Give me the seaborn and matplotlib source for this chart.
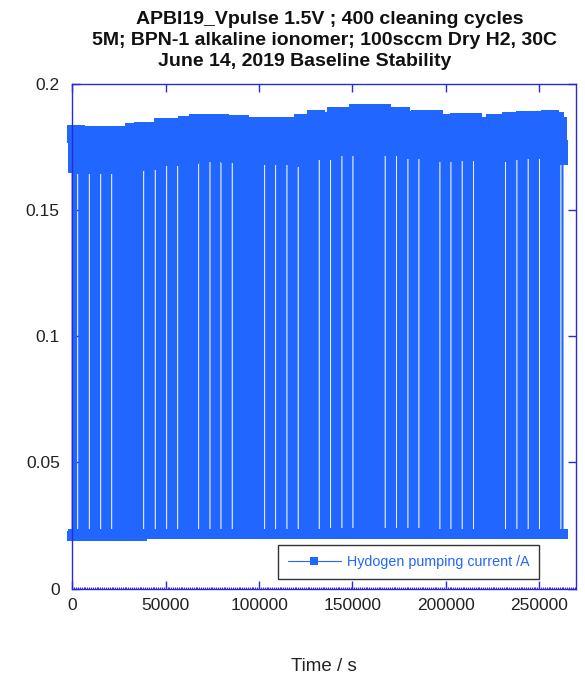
import numpy as np
import pandas as pd
import seaborn as sns
import matplotlib
matplotlib.use("Agg")
from matplotlib import pyplot as plt
from matplotlib.lines import Line2D
from matplotlib.ticker import MultipleLocator, FuncFormatter

# ------------------------------------------------- #
# values
# centres of the white gaps (pauses between pulse blocks), s
gap_t = [2890, 9100, 15200, 21090,
         38220, 44430, 50530, 56420,
         67660, 73710, 79600, 85650,
         102990, 108880, 114930, 120980,
         132220, 138320, 144370, 150260,
         167550, 173650, 179700, 185590,
         196830, 202730, 208780, 214880,
         232000, 238050, 244100, 250200,
         261600]
t_end = 262650

# top edge of the high-current band (A), step changes
env_t = [0, 4650, 30900, 35700, 46400, 58700, 64600, 81700, 92300, 95000,
         118600, 120800, 128200, 133600, 137900, 145900, 149700, 168400, 171600, 178100,
         183400, 196800, 204800, 217100, 223600, 231600, 239700, 253000, 258400, 261000]
env_top = [0.1837, 0.1833, 0.1844, 0.1848, 0.1864, 0.1874, 0.1881, 0.1877, 0.1866, 0.1870,
           0.1860, 0.1881, 0.1897, 0.1890, 0.1908, 0.1904, 0.1919, 0.1906, 0.1908, 0.1894,
           0.1897, 0.1881, 0.1884, 0.1870, 0.1880, 0.1888, 0.1893, 0.1897, 0.1888, 0.1870]

# bottom edge of the low-current band (A)
low_t = [0, 20200, 37900, 139500, 186700]
low_bottom = [0.0190, 0.0189, 0.0197, 0.0201, 0.0196]
low_top = 0.0237

# one pulse: time offsets (s) and drop from the band top (A)
pulse_dt = [0, 80, 160, 240, 320, 400]
pulse_drop = [0.0, 0.003, 0.006, 0.009, 0.012, 0.0150]
period = 660
pause = 1300

x_ticks = [0, 50000, 100000, 150000, 200000, 250000]
y_ticks = [0, 0.05, 0.1, 0.15, 0.2]
title_lines = ["APBI19_Vpulse 1.5V ; 400 cleaning cycles",
               "5M; BPN-1 alkaline ionomer; 100sccm Dry H2, 30C",
               "June 14, 2019 Baseline Stability"]
# ------------------------------------------------- #

blue = "#2166FF"
frame = "#2a2ad8"
half = 0.002  # half a marker in data units

# build the pulse train block by block
t_list, i_list = [], []
starts = [0] + [g + pause / 2 for g in gap_t]
ends = [g - pause / 2 for g in gap_t] + [t_end]
high_len = pulse_dt[-1]
for s, e in zip(starts, ends):
    n = int((e - s - high_len) // period) + 1
    step = (e - s - high_len) / (n - 1) if n > 1 else 0
    for j in range(n):
        c = s + j * step
        k = np.searchsorted(env_t, c, side="right") - 1
        m = np.searchsorted(low_t, c, side="right") - 1
        top = env_top[k] - half
        t_list.append(c)
        i_list.append(low_bottom[m] + half)
        for dt, dv in zip(pulse_dt, pulse_drop):
            t_list.append(c + dt)
            i_list.append(top - dv)
        t_list.append(c + high_len)
        i_list.append(low_top - half)

df = pd.DataFrame({"Time / s": t_list, "Hydogen pumping current /A": i_list})

sns.set_style("ticks")
plt.rcParams["font.family"] = ["Liberation Sans", "DejaVu Sans"]

fig = plt.figure(figsize=(5.85, 6.74), dpi=100)
ax = fig.add_axes([0.1236, 0.1266, 0.8610, 0.7488])

sns.lineplot(data=df, x="Time / s", y="Hydogen pumping current /A", ax=ax,
             sort=False, estimator=None, color=blue, linewidth=1.0,
             marker="s", markersize=7.2, markeredgewidth=0, legend=False,
             clip_on=False)

ax.set_xlim(0, 269700)
ax.set_ylim(0, 0.2)
ax.set_xticks(x_ticks)
ax.set_yticks(y_ticks)
ax.xaxis.set_minor_locator(MultipleLocator(1000))
ax.xaxis.set_major_formatter(FuncFormatter(lambda v, p: "%d" % v))
ax.yaxis.set_major_formatter(FuncFormatter(lambda v, p: "%g" % v))
ax.set_axisbelow(True)

for sp in ax.spines.values():
    sp.set_visible(True)
    sp.set_color(frame)
    sp.set_linewidth(1.0)
    sp.set_zorder(3)

ax.tick_params(which="major", direction="in", length=6, width=1, color=frame,
               top=True, right=True, labelsize=12.5, labelcolor="#222222")
ax.tick_params(axis="x", which="major", pad=7)
ax.tick_params(axis="y", which="major", pad=9)
ax.tick_params(axis="x", which="minor", direction="in", length=1.5, width=0.8,
               color=frame, bottom=True, top=False)

ax.set_xlabel("Time / s", fontsize=13.5, color="#222222", labelpad=32)
ax.set_ylabel("")

title_x = [330, 325, 305]
title_y = [23.5, 45, 66]
for txt, xp, yp in zip(title_lines, title_x, title_y):
    fig.text(xp / 585, 1 - yp / 674, txt, ha="center", va="baseline",
             fontsize=14, fontweight="bold", color="#111111")

handle = Line2D([], [], color=blue, linewidth=0.8, marker="s", markersize=6,
                markeredgewidth=0)
leg = ax.legend(handles=[handle], labels=["Hydogen pumping current /A"],
                loc="lower right", bbox_to_anchor=(0.927, 0.0186),
                borderaxespad=0, fontsize=10.3, labelcolor=blue,
                handlelength=3.7, handletextpad=0.4, borderpad=0.7,
                fancybox=False, framealpha=1, edgecolor="#333333")
leg.get_frame().set_linewidth(1.0)
leg.set_zorder(5)

fig.savefig("out.png", dpi=100)
